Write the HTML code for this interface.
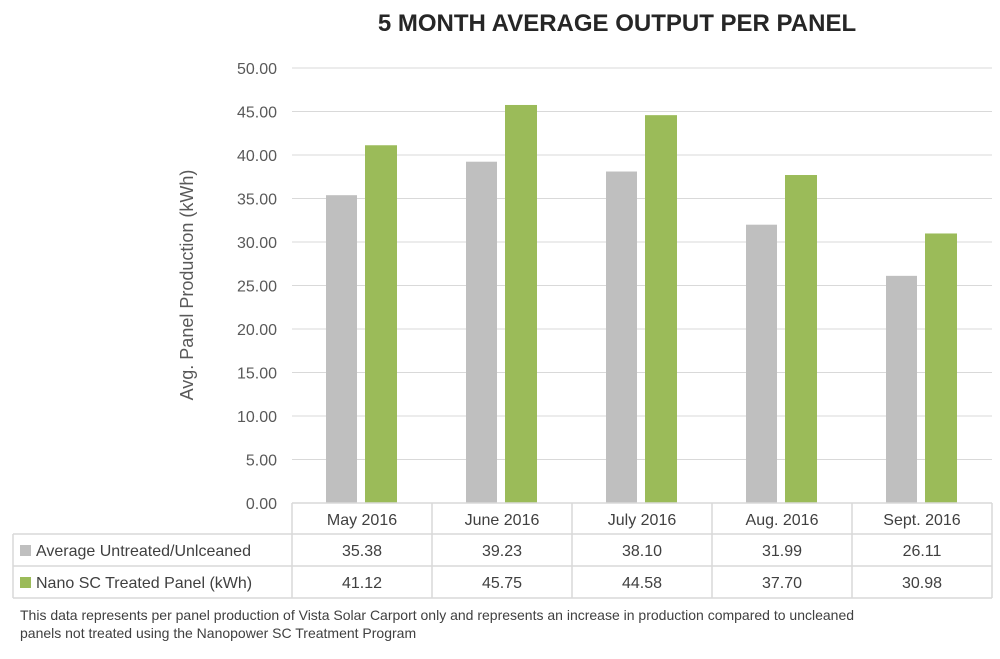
<!DOCTYPE html>
<html><head><meta charset="utf-8"><style>
body{margin:0;background:#fff;width:1000px;height:654px;overflow:hidden;font-family:"Liberation Sans",sans-serif}
</style></head><body>
<svg id="chart" width="1000" height="654" xmlns="http://www.w3.org/2000/svg">
<text x="617" y="31" text-anchor="middle" font-size="24" font-weight="bold" fill="#262626">5 MONTH AVERAGE OUTPUT PER PANEL</text>
<text transform="translate(193,285) rotate(-90)" text-anchor="middle" font-size="18" fill="#595959">Avg. Panel Production (kWh)</text>
<g id="grid"></g><g id="bars"></g><g id="table"></g>
<text x="20" y="620" font-size="14" fill="#404040">This data represents per panel production of Vista Solar Carport only and represents an increase in production compared to uncleaned</text>
<text x="20" y="638" font-size="14" fill="#404040">panels not treated using the Nanopower SC Treatment Program</text>
</svg>
<script>
const categories=["May 2016","June 2016","July 2016","Aug. 2016","Sept. 2016"];
const untreated=[35.38,39.23,38.10,31.99,26.11];
const treated=[41.12,45.75,44.58,37.70,30.98];
const yTicks=[0,5,10,15,20,25,30,35,40,45,50];
const seriesNames=["Average Untreated/Unlceaned","Nano SC Treated Panel (kWh)"];
const NS="http://www.w3.org/2000/svg";
const x0=292,cw=140,yBase=503,yTop=68,yMax=50;
const y=v=>yBase-(v/yMax)*(yBase-yTop);
const xc=i=>x0+cw*(i+0.5);
function mk(tag,attrs,parent,text){const e=document.createElementNS(NS,tag);for(const k in attrs)e.setAttribute(k,attrs[k]);if(text!==undefined)e.textContent=text;parent.appendChild(e);return e;}
const grid=document.getElementById('grid'),bars=document.getElementById('bars'),tbl=document.getElementById('table');
yTicks.forEach(t=>{
 const l=mk('line',{x1:x0,x2:992,y1:y(t),y2:y(t),stroke:'#d9d9d9','stroke-width':1},grid);
 
 
 const tx=mk('text',{x:277,y:y(t)+6,'text-anchor':'end','font-size':16,fill:'#595959'},grid,t.toFixed(2));
 
 
});
categories.forEach((c,i)=>{
 const g=mk('rect',{x:xc(i)-36,y:y(untreated[i]),width:31,height:yBase-y(untreated[i]),fill:'#bfbfbf'},bars);
 
 
 const gr=mk('rect',{x:xc(i)+3,y:y(treated[i]),width:32,height:yBase-y(treated[i]),fill:'#9bbb59'},bars);
 
 
});
// table
const rows=[503,534,566,598];
const ts={stroke:'#d9d9d9','stroke-width':1.5};
mk('line',Object.assign({x1:x0,x2:992,y1:503,y2:503},ts),tbl);
[534,566,598].forEach(r=>mk('line',Object.assign({x1:13,x2:992,y1:r,y2:r},ts),tbl));
mk('line',Object.assign({x1:13,x2:13,y1:534,y2:598},ts),tbl);
for(let i=0;i<=5;i++)mk('line',Object.assign({x1:x0+cw*i,x2:x0+cw*i,y1:503,y2:598},ts),tbl);
categories.forEach((c,i)=>{
 const t=mk('text',{x:xc(i),y:525,'text-anchor':'middle','font-size':16,fill:'#404040'},tbl,c);
 
 
 const a=mk('text',{x:xc(i),y:556,'text-anchor':'middle','font-size':16,fill:'#404040'},tbl,untreated[i].toFixed(2));
 
 
 const b=mk('text',{x:xc(i),y:588,'text-anchor':'middle','font-size':16,fill:'#404040'},tbl,treated[i].toFixed(2));
 
 
});
const cols=['#bfbfbf','#9bbb59'];
seriesNames.forEach((n,k)=>{
 const ry=rows[k+1];
 const s=mk('rect',{x:20,y:ry+11,width:11,height:11,fill:cols[k]},tbl);
 
 
 const t=mk('text',{x:36,y:ry+22,'font-size':16,fill:'#404040'},tbl,n);
 
 
});
</script>
</body></html>
